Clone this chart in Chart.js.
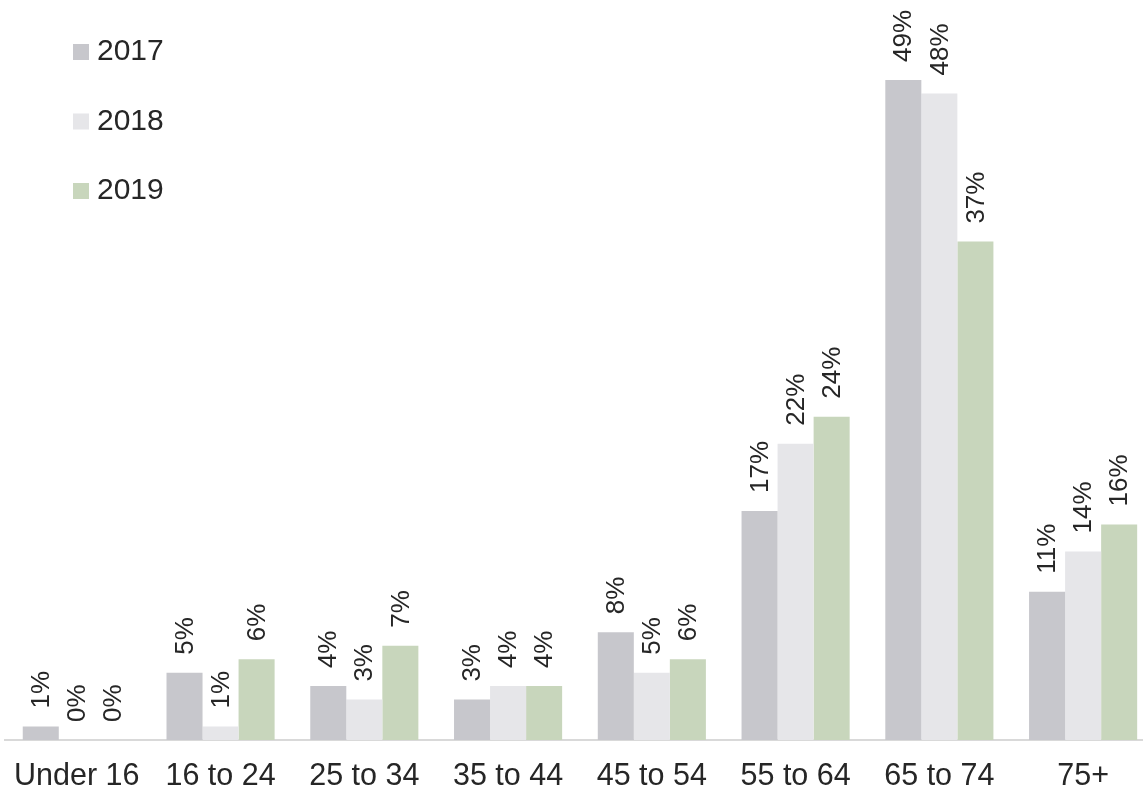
<!DOCTYPE html>
<html>
<head>
<meta charset="utf-8">
<script src="https://cdn.jsdelivr.net/npm/chart.js@4/dist/chart.umd.min.js"></script>
<style>
  html, body { margin: 0; padding: 0; background: #fff; overflow: hidden; }
  #wrap { width: 1143px; height: 792px; overflow: hidden; position: relative; }
  #box { width: 1160px; height: 792px; position: absolute; left: -4px; top: 0; }
</style>
</head>
<body>
<div id="wrap"><div id="box"><canvas id="myChart"></canvas></div></div>
<script>
let categories = ["Under 16", "16 to 24", "25 to 34", "35 to 44", "45 to 54", "55 to 64", "65 to 74", "75+"];
let years = ["2017", "2018", "2019"];
let values2017 = [1, 5, 4, 3, 8, 17, 49, 11];
let values2018 = [0, 1, 3, 4, 5, 22, 48, 14];
let values2019 = [0, 6, 7, 4, 6, 24, 37, 16];
let colors = ["#c7c7cc", "#e6e6e9", "#c8d6bc"];

let font = "'Liberation Sans', Arial, sans-serif";
let textColor = "#262626";

// rotated % labels above each bar
let barLabels = {
  id: "barLabels",
  afterDatasetsDraw(chart) {
    let ctx = chart.ctx;
    ctx.save();
    ctx.font = "26px " + font;
    ctx.fillStyle = textColor;
    ctx.textAlign = "left";
    ctx.textBaseline = "middle";
    chart.data.datasets.forEach((ds, i) => {
      chart.getDatasetMeta(i).data.forEach((bar, j) => {
        ctx.save();
        ctx.translate(bar.x, bar.y - 18);
        ctx.rotate(-Math.PI / 2);
        ctx.fillText(ds.data[j] + "%", 0, 1);
        ctx.restore();
      });
    });
    ctx.restore();
  }
};

// vertical legend in the top left corner
let sideLegend = {
  id: "sideLegend",
  afterDraw(chart) {
    let ctx = chart.ctx;
    ctx.save();
    ctx.font = "30px " + font;
    ctx.textBaseline = "middle";
    chart.data.datasets.forEach((ds, i) => {
      let y = 52 + i * 69.5;
      ctx.fillStyle = ds.backgroundColor;
      ctx.fillRect(77, y - 8, 16, 16);
      ctx.fillStyle = textColor;
      ctx.fillText(ds.label, 101, y);
    });
    ctx.restore();
  }
};

new Chart(document.getElementById("myChart"), {
  type: "bar",
  data: {
    labels: categories,
    datasets: [values2017, values2018, values2019].map((d, i) => ({
      label: years[i],
      data: d,
      backgroundColor: colors[i],
      borderWidth: 0,
      barPercentage: 1,
      categoryPercentage: 0.752
    }))
  },
  options: {
    responsive: true,
    maintainAspectRatio: false,
    animation: false,
    layout: { padding: { left: 1, right: 1, top: 66.5, bottom: 0 } },
    plugins: { legend: { display: false }, tooltip: { enabled: false } },
    scales: {
      x: {
        grid: { display: false, drawTicks: false },
        border: { display: true, color: "#d9d9d9", width: 2 },
        ticks: { color: textColor, font: { family: font, size: 30.5 }, padding: 18, maxRotation: 0 },
        afterFit(scale) { scale.height = 52; }
      },
      y: { display: false, min: 0, max: 50 }
    }
  },
  plugins: [barLabels, sideLegend]
});
</script>
</body>
</html>
